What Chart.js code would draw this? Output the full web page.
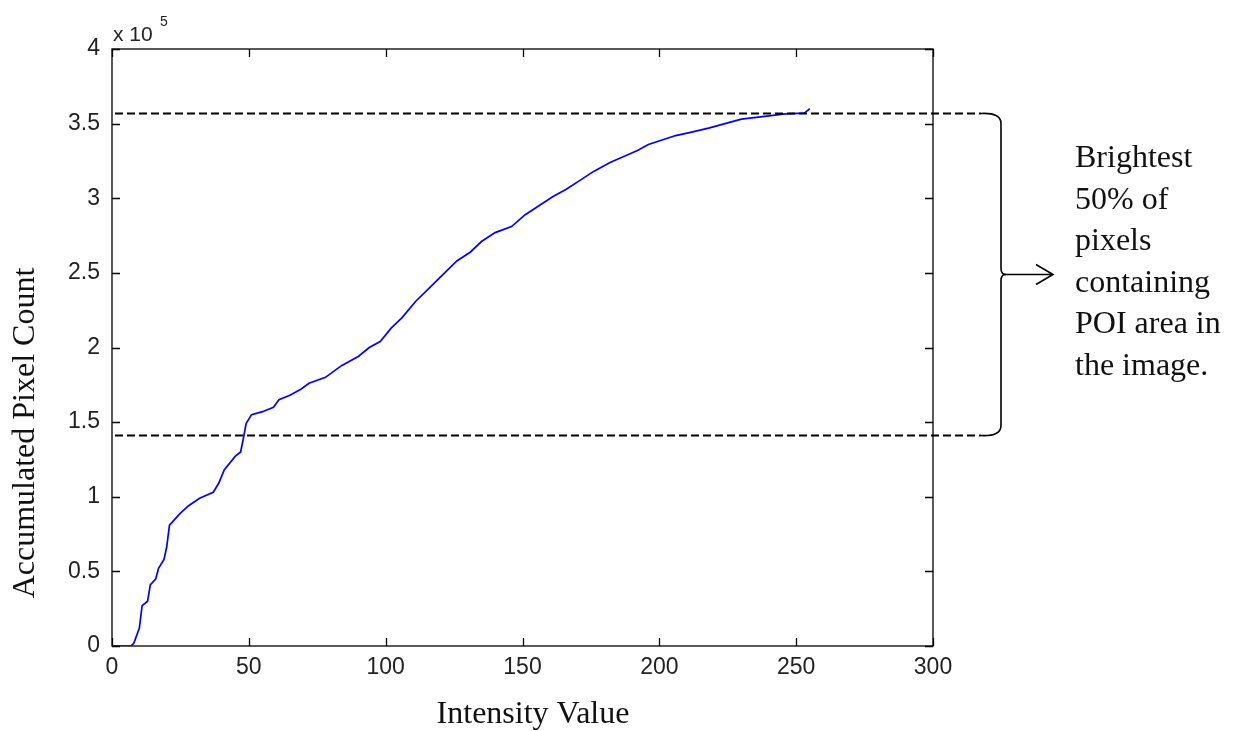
<!DOCTYPE html>
<html>
<head>
<meta charset="utf-8">
<script src="https://cdn.jsdelivr.net/npm/chart.js@4/dist/chart.umd.min.js"></script>
<style>
  html, body { margin: 0; padding: 0; background: #fff; }
  #wrap { width: 1241px; height: 731px; position: relative; }
</style>
</head>
<body>
<div id="wrap"><canvas id="c" width="1241" height="731"></canvas></div>
<script>
// ---- Data ----
const intensity = [0, 7, 8, 10, 11, 13, 14, 16, 17, 19, 20, 21, 23, 25, 28, 32, 37, 39, 41, 45, 47, 48, 49, 51, 55, 59, 61, 65, 69, 72, 78, 84, 90, 94, 98, 102, 106, 111, 116, 121, 126, 131, 135, 140, 146, 151, 156, 161, 166, 171, 176, 182, 187, 192, 196, 201, 206, 211, 218, 225, 230, 237, 246, 253, 255];
const pixelCount = [0, 0, 2000, 12000, 27000, 30000, 41000, 45000, 52000, 58000, 66500, 81000, 85000, 89000, 94000, 99000, 103000, 109000, 118000, 127000, 130000, 139000, 149000, 155000, 157000, 160000, 165000, 168000, 172000, 176000, 180000, 188000, 194000, 200000, 204000, 213000, 220000, 231000, 240000, 249000, 258000, 264000, 271000, 277000, 281000, 289000, 295000, 301000, 306000, 312000, 318000, 324000, 328000, 332000, 336000, 339000, 342000, 344000, 347000, 350500, 353000, 354500, 356500, 357000, 360000];
const xTicks = [0, 50, 100, 150, 200, 250, 300];
const yTicks = [0, 50000, 100000, 150000, 200000, 250000, 300000, 350000, 400000];
const thresholdHigh = 357200;   // upper dashed line
const thresholdLow = 141400;    // lower dashed line
const xTitle = "Intensity Value";
const yTitle = "Accumulated Pixel Count";
const noteLines = ["Brightest", "50% of", "pixels", "containing", "POI area in", "the image."];

const points = intensity.map((x, i) => ({ x: x, y: pixelCount[i] }));

const tickFont = { family: "'Liberation Sans', Arial, sans-serif", size: 23 };

const decor = {
  id: 'decor',
  beforeDatasetsDraw(chart) {
    const ctx = chart.ctx, a = chart.chartArea;
    const xs = chart.scales.x, ys = chart.scales.y;
    ctx.save();
    ctx.strokeStyle = '#000';
    ctx.lineWidth = 1.3;
    ctx.strokeRect(a.left, a.top, a.right - a.left, a.bottom - a.top);
    const tl = 8;
    ctx.beginPath();
    xTicks.forEach(v => {
      const px = Math.round(xs.getPixelForValue(v)) + 0.5;
      ctx.moveTo(px, a.bottom); ctx.lineTo(px, a.bottom - tl);
      ctx.moveTo(px, a.top); ctx.lineTo(px, a.top + tl);
    });
    yTicks.forEach(v => {
      const py = Math.round(ys.getPixelForValue(v)) + 0.5;
      ctx.moveTo(a.left, py); ctx.lineTo(a.left + tl, py);
      ctx.moveTo(a.right, py); ctx.lineTo(a.right - tl, py);
    });
    ctx.stroke();
    ctx.restore();
  },
  afterDraw(chart) {
    const ctx = chart.ctx, a = chart.chartArea;
    const ys = chart.scales.y;
    ctx.save();
    // exponent label
    ctx.fillStyle = '#222';
    ctx.font = "21px 'Liberation Sans', Arial, sans-serif";
    ctx.textBaseline = 'alphabetic';
    ctx.textAlign = 'left';
    ctx.fillText('x 10', a.left + 1, a.top - 8);
    ctx.font = "14px 'Liberation Sans', Arial, sans-serif";
    ctx.fillText('5', a.left + 48, a.top - 23);

    // dashed threshold lines
    const yH = Math.round(ys.getPixelForValue(thresholdHigh)) + 0.5;
    const yL = Math.round(ys.getPixelForValue(thresholdLow)) + 0.5;
    ctx.strokeStyle = '#000';
    ctx.lineWidth = 1.8;
    ctx.setLineDash([8, 4]);
    ctx.beginPath();
    ctx.moveTo(a.left + 3, yH); ctx.lineTo(a.right + 48, yH);
    ctx.moveTo(a.left + 3, yL); ctx.lineTo(a.right + 48, yL);
    ctx.stroke();
    ctx.setLineDash([]);

    // brace
    const bx = a.right + 68;   // vertical line of brace
    const mid = (yH + yL) / 2;
    ctx.lineWidth = 1.6;
    ctx.beginPath();
    ctx.moveTo(a.right + 48, yH);
    ctx.quadraticCurveTo(bx, yH - 1, bx, yH + 10);
    ctx.lineTo(bx, mid - 6);
    ctx.quadraticCurveTo(bx, mid, bx + 5, mid);
    ctx.quadraticCurveTo(bx, mid, bx, mid + 6);
    ctx.lineTo(bx, yL - 10);
    ctx.quadraticCurveTo(bx, yL + 1, a.right + 48, yL);
    ctx.stroke();
    // arrow
    ctx.beginPath();
    ctx.moveTo(bx + 3, mid); ctx.lineTo(bx + 52, mid);
    ctx.moveTo(bx + 35, mid - 10); ctx.lineTo(bx + 52, mid); ctx.lineTo(bx + 35, mid + 10);
    ctx.stroke();

    // note text
    ctx.fillStyle = '#111';
    ctx.font = "32px 'Liberation Serif', 'Times New Roman', serif";
    ctx.textAlign = 'left';
    ctx.textBaseline = 'alphabetic';
    noteLines.forEach((t, i) => ctx.fillText(t, 1075, 167 + i * 41.6));

    // axis titles
    ctx.font = "32px 'Liberation Serif', 'Times New Roman', serif";
    ctx.textAlign = 'center';
    ctx.textBaseline = 'middle';
    ctx.fillText(xTitle, 533, 715);
    ctx.save();
    ctx.translate(26, 433);
    ctx.rotate(-Math.PI / 2);
    ctx.fillText(yTitle, 0, 0);
    ctx.restore();
    ctx.restore();
  }
};

new Chart(document.getElementById('c'), {
  type: 'line',
  data: {
    datasets: [{
      data: points,
      borderColor: '#0000ff',
      borderWidth: 1.7,
      pointRadius: 0,
      fill: false,
      tension: 0
    }]
  },
  options: {
    responsive: false,
    animation: false,
    layout: { padding: { left: 0, top: 49, right: 308, bottom: 0 } },
    plugins: { legend: { display: false }, tooltip: { enabled: false } },
    scales: {
      x: {
        type: 'linear', min: 0, max: 300,
        afterFit: s => { s.height = 85; },
        afterBuildTicks: s => { s.ticks = xTicks.map(v => ({ value: v })); },
        grid: { display: false, drawTicks: false },
        border: { display: false },
        ticks: { font: tickFont, color: '#222', padding: 8, maxRotation: 0 }
      },
      y: {
        type: 'linear', min: 0, max: 400000,
        afterFit: s => { s.width = 112; },
        afterBuildTicks: s => { s.ticks = yTicks.map(v => ({ value: v })); },
        grid: { display: false, drawTicks: false },
        border: { display: false },
        ticks: { font: tickFont, color: '#222', padding: 12, callback: v => String(v / 100000) }
      }
    }
  },
  plugins: [decor]
});
</script>
</body>
</html>
